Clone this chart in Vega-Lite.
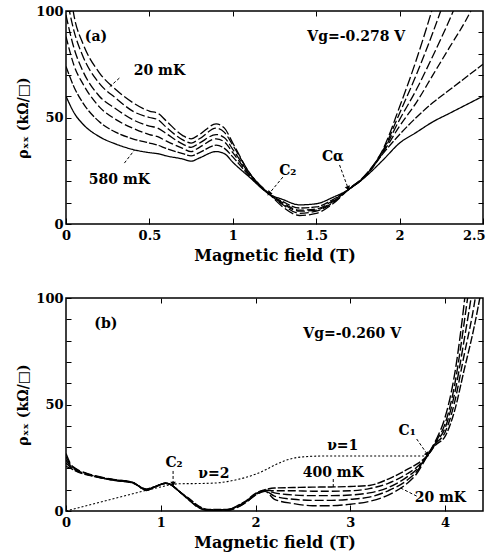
{
  "$schema": "https://vega.github.io/schema/vega-lite/v6.json",
  "background": "white",
  "padding": {"left": 16, "top": 4, "right": 0, "bottom": 5},
  "spacing": 27,
  "config": {
    "view": {"stroke": "black", "strokeWidth": 1.5},
    "axis": {
      "domain": false, "grid": false,
      "labelFont": "DejaVu Serif", "labelFontWeight": "bold", "labelFontSize": 13, "labelColor": "black",
      "titleFont": "DejaVu Serif", "titleFontWeight": "bold", "titleFontSize": 16, "titleColor": "black",
      "tickColor": "black", "tickWidth": 1, "labelFlush": false, "labelOverlap": false
    },
    "text": {"font": "DejaVu Serif", "fontWeight": "bold", "fontSize": 14, "color": "black"}
  },
  "datasets": {
    "a": [
      {"T":"20 mK","B":0,"rho":125},{"T":"20 mK","B":0.05,"rho":97},{"T":"20 mK","B":0.1,"rho":85},{"T":"20 mK","B":0.2,"rho":71},{"T":"20 mK","B":0.3,"rho":63},{"T":"20 mK","B":0.4,"rho":57},{"T":"20 mK","B":0.5,"rho":53},{"T":"20 mK","B":0.55,"rho":52},{"T":"20 mK","B":0.6,"rho":48.5},{"T":"20 mK","B":0.7,"rho":41.5},{"T":"20 mK","B":0.75,"rho":40},{"T":"20 mK","B":0.8,"rho":42},{"T":"20 mK","B":0.9,"rho":47},{"T":"20 mK","B":0.95,"rho":45},{"T":"20 mK","B":1.0,"rho":38},{"T":"20 mK","B":1.1,"rho":24},{"T":"20 mK","B":1.22,"rho":14},{"T":"20 mK","B":1.3,"rho":8},{"T":"20 mK","B":1.4,"rho":4},{"T":"20 mK","B":1.5,"rho":5},{"T":"20 mK","B":1.6,"rho":9.5},{"T":"20 mK","B":1.69,"rho":16},{"T":"20 mK","B":1.8,"rho":23.5},{"T":"20 mK","B":1.9,"rho":35},{"T":"20 mK","B":2.0,"rho":55},{"T":"20 mK","B":2.1,"rho":77},{"T":"20 mK","B":2.2,"rho":102},{"T":"20 mK","B":2.3,"rho":130},
      {"T":"100 mK","B":0,"rho":108},{"T":"100 mK","B":0.05,"rho":90},{"T":"100 mK","B":0.1,"rho":79},{"T":"100 mK","B":0.2,"rho":66},{"T":"100 mK","B":0.3,"rho":59},{"T":"100 mK","B":0.4,"rho":53},{"T":"100 mK","B":0.5,"rho":50},{"T":"100 mK","B":0.55,"rho":49},{"T":"100 mK","B":0.6,"rho":45.5},{"T":"100 mK","B":0.7,"rho":39.5},{"T":"100 mK","B":0.75,"rho":38},{"T":"100 mK","B":0.8,"rho":40},{"T":"100 mK","B":0.9,"rho":45},{"T":"100 mK","B":0.95,"rho":43},{"T":"100 mK","B":1.0,"rho":37},{"T":"100 mK","B":1.1,"rho":24},{"T":"100 mK","B":1.22,"rho":14},{"T":"100 mK","B":1.3,"rho":9},{"T":"100 mK","B":1.4,"rho":5},{"T":"100 mK","B":1.5,"rho":6},{"T":"100 mK","B":1.6,"rho":10},{"T":"100 mK","B":1.69,"rho":16},{"T":"100 mK","B":1.8,"rho":23.3},{"T":"100 mK","B":1.9,"rho":34.5},{"T":"100 mK","B":2.0,"rho":52},{"T":"100 mK","B":2.1,"rho":70},{"T":"100 mK","B":2.2,"rho":90},{"T":"100 mK","B":2.3,"rho":112},
      {"T":"200 mK","B":0,"rho":98},{"T":"200 mK","B":0.05,"rho":82},{"T":"200 mK","B":0.1,"rho":72},{"T":"200 mK","B":0.2,"rho":60},{"T":"200 mK","B":0.3,"rho":54},{"T":"200 mK","B":0.4,"rho":49},{"T":"200 mK","B":0.5,"rho":46},{"T":"200 mK","B":0.55,"rho":45},{"T":"200 mK","B":0.6,"rho":42.5},{"T":"200 mK","B":0.7,"rho":37.5},{"T":"200 mK","B":0.75,"rho":36},{"T":"200 mK","B":0.8,"rho":38},{"T":"200 mK","B":0.9,"rho":42},{"T":"200 mK","B":0.95,"rho":40.5},{"T":"200 mK","B":1.0,"rho":35},{"T":"200 mK","B":1.1,"rho":23.5},{"T":"200 mK","B":1.22,"rho":14},{"T":"200 mK","B":1.3,"rho":9.5},{"T":"200 mK","B":1.4,"rho":6},{"T":"200 mK","B":1.5,"rho":6.5},{"T":"200 mK","B":1.6,"rho":10.5},{"T":"200 mK","B":1.69,"rho":16},{"T":"200 mK","B":1.8,"rho":23.1},{"T":"200 mK","B":1.9,"rho":34},{"T":"200 mK","B":2.0,"rho":49},{"T":"200 mK","B":2.1,"rho":63},{"T":"200 mK","B":2.2,"rho":79},{"T":"200 mK","B":2.3,"rho":96},{"T":"200 mK","B":2.4,"rho":115},
      {"T":"300 mK","B":0,"rho":88},{"T":"300 mK","B":0.05,"rho":74},{"T":"300 mK","B":0.1,"rho":66},{"T":"300 mK","B":0.2,"rho":55},{"T":"300 mK","B":0.3,"rho":49},{"T":"300 mK","B":0.4,"rho":45},{"T":"300 mK","B":0.5,"rho":42},{"T":"300 mK","B":0.55,"rho":41},{"T":"300 mK","B":0.6,"rho":39},{"T":"300 mK","B":0.7,"rho":35.5},{"T":"300 mK","B":0.75,"rho":34},{"T":"300 mK","B":0.8,"rho":36},{"T":"300 mK","B":0.9,"rho":40},{"T":"300 mK","B":0.95,"rho":38.5},{"T":"300 mK","B":1.0,"rho":33.5},{"T":"300 mK","B":1.1,"rho":23},{"T":"300 mK","B":1.22,"rho":14},{"T":"300 mK","B":1.3,"rho":10},{"T":"300 mK","B":1.4,"rho":6.5},{"T":"300 mK","B":1.5,"rho":7},{"T":"300 mK","B":1.6,"rho":11},{"T":"300 mK","B":1.69,"rho":16},{"T":"300 mK","B":1.8,"rho":22.9},{"T":"300 mK","B":1.9,"rho":33.5},{"T":"300 mK","B":2.0,"rho":46},{"T":"300 mK","B":2.1,"rho":57},{"T":"300 mK","B":2.2,"rho":70},{"T":"300 mK","B":2.3,"rho":83},{"T":"300 mK","B":2.4,"rho":96},{"T":"300 mK","B":2.5,"rho":112},
      {"T":"400 mK","B":0,"rho":74},{"T":"400 mK","B":0.05,"rho":64},{"T":"400 mK","B":0.1,"rho":57},{"T":"400 mK","B":0.2,"rho":48},{"T":"400 mK","B":0.3,"rho":43},{"T":"400 mK","B":0.4,"rho":40},{"T":"400 mK","B":0.5,"rho":38},{"T":"400 mK","B":0.55,"rho":37},{"T":"400 mK","B":0.6,"rho":35.5},{"T":"400 mK","B":0.7,"rho":33},{"T":"400 mK","B":0.75,"rho":32},{"T":"400 mK","B":0.8,"rho":33.5},{"T":"400 mK","B":0.9,"rho":37},{"T":"400 mK","B":0.95,"rho":35.5},{"T":"400 mK","B":1.0,"rho":31.5},{"T":"400 mK","B":1.1,"rho":22.5},{"T":"400 mK","B":1.22,"rho":14},{"T":"400 mK","B":1.3,"rho":10.5},{"T":"400 mK","B":1.4,"rho":7.5},{"T":"400 mK","B":1.5,"rho":8},{"T":"400 mK","B":1.6,"rho":11.5},{"T":"400 mK","B":1.69,"rho":16},{"T":"400 mK","B":1.8,"rho":22.7},{"T":"400 mK","B":1.9,"rho":33},{"T":"400 mK","B":2.0,"rho":42},{"T":"400 mK","B":2.1,"rho":50},{"T":"400 mK","B":2.2,"rho":57},{"T":"400 mK","B":2.3,"rho":63},{"T":"400 mK","B":2.4,"rho":69},{"T":"400 mK","B":2.5,"rho":75},
      {"T":"580 mK","B":0,"rho":60},{"T":"580 mK","B":0.05,"rho":52},{"T":"580 mK","B":0.1,"rho":47},{"T":"580 mK","B":0.2,"rho":41},{"T":"580 mK","B":0.3,"rho":37.5},{"T":"580 mK","B":0.4,"rho":35},{"T":"580 mK","B":0.5,"rho":33.5},{"T":"580 mK","B":0.55,"rho":33},{"T":"580 mK","B":0.6,"rho":32},{"T":"580 mK","B":0.7,"rho":30.5},{"T":"580 mK","B":0.75,"rho":29.5},{"T":"580 mK","B":0.8,"rho":31},{"T":"580 mK","B":0.9,"rho":34},{"T":"580 mK","B":0.95,"rho":33},{"T":"580 mK","B":1.0,"rho":29},{"T":"580 mK","B":1.1,"rho":22},{"T":"580 mK","B":1.22,"rho":14},{"T":"580 mK","B":1.3,"rho":11.5},{"T":"580 mK","B":1.4,"rho":9},{"T":"580 mK","B":1.5,"rho":9.5},{"T":"580 mK","B":1.6,"rho":12.5},{"T":"580 mK","B":1.69,"rho":16},{"T":"580 mK","B":1.8,"rho":22.5},{"T":"580 mK","B":1.9,"rho":30},{"T":"580 mK","B":2.0,"rho":38},{"T":"580 mK","B":2.1,"rho":43},{"T":"580 mK","B":2.2,"rho":48},{"T":"580 mK","B":2.3,"rho":52},{"T":"580 mK","B":2.4,"rho":56},{"T":"580 mK","B":2.5,"rho":60}
    ],
    "b": [
      {"T":"20 mK","B":0,"rho":27},{"T":"20 mK","B":0.05,"rho":22},{"T":"20 mK","B":0.1,"rho":20},{"T":"20 mK","B":0.2,"rho":18},{"T":"20 mK","B":0.3,"rho":16.6},{"T":"20 mK","B":0.5,"rho":14.8},{"T":"20 mK","B":0.7,"rho":13.6},{"T":"20 mK","B":0.85,"rho":9.6},{"T":"20 mK","B":0.95,"rho":11.6},{"T":"20 mK","B":1.05,"rho":13},{"T":"20 mK","B":1.1,"rho":12.5},{"T":"20 mK","B":1.2,"rho":9},{"T":"20 mK","B":1.3,"rho":5},{"T":"20 mK","B":1.4,"rho":1.5},{"T":"20 mK","B":1.5,"rho":0.3},{"T":"20 mK","B":1.7,"rho":0.3},{"T":"20 mK","B":1.8,"rho":1.5},{"T":"20 mK","B":1.9,"rho":4},{"T":"20 mK","B":2.0,"rho":7.5},{"T":"20 mK","B":2.1,"rho":9.2},{"T":"20 mK","B":2.2,"rho":5.5},{"T":"20 mK","B":2.4,"rho":3.5},{"T":"20 mK","B":2.6,"rho":2.5},{"T":"20 mK","B":2.8,"rho":2.5},{"T":"20 mK","B":3.0,"rho":3.2},{"T":"20 mK","B":3.2,"rho":4.5},{"T":"20 mK","B":3.4,"rho":7.5},{"T":"20 mK","B":3.6,"rho":13},{"T":"20 mK","B":3.7,"rho":17.5},{"T":"20 mK","B":3.81,"rho":25.8},{"T":"20 mK","B":3.9,"rho":33},{"T":"20 mK","B":4.0,"rho":44},{"T":"20 mK","B":4.1,"rho":64},{"T":"20 mK","B":4.2,"rho":97},{"T":"20 mK","B":4.3,"rho":140},
      {"T":"100 mK","B":0,"rho":25.5},{"T":"100 mK","B":0.05,"rho":21.5},{"T":"100 mK","B":0.1,"rho":19.7},{"T":"100 mK","B":0.2,"rho":17.8},{"T":"100 mK","B":0.3,"rho":16.5},{"T":"100 mK","B":0.5,"rho":14.7},{"T":"100 mK","B":0.7,"rho":13.5},{"T":"100 mK","B":0.85,"rho":9.8},{"T":"100 mK","B":0.95,"rho":11.6},{"T":"100 mK","B":1.05,"rho":13},{"T":"100 mK","B":1.1,"rho":12.5},{"T":"100 mK","B":1.2,"rho":9},{"T":"100 mK","B":1.3,"rho":5.2},{"T":"100 mK","B":1.4,"rho":1.7},{"T":"100 mK","B":1.5,"rho":0.4},{"T":"100 mK","B":1.7,"rho":0.4},{"T":"100 mK","B":1.8,"rho":1.7},{"T":"100 mK","B":1.9,"rho":4.2},{"T":"100 mK","B":2.0,"rho":7.7},{"T":"100 mK","B":2.1,"rho":9.4},{"T":"100 mK","B":2.2,"rho":7},{"T":"100 mK","B":2.4,"rho":5.5},{"T":"100 mK","B":2.6,"rho":5},{"T":"100 mK","B":2.8,"rho":5},{"T":"100 mK","B":3.0,"rho":5.5},{"T":"100 mK","B":3.2,"rho":6.5},{"T":"100 mK","B":3.4,"rho":9.5},{"T":"100 mK","B":3.6,"rho":14.5},{"T":"100 mK","B":3.7,"rho":18.5},{"T":"100 mK","B":3.81,"rho":25.8},{"T":"100 mK","B":3.9,"rho":32.5},{"T":"100 mK","B":4.0,"rho":41},{"T":"100 mK","B":4.1,"rho":59},{"T":"100 mK","B":4.2,"rho":88},{"T":"100 mK","B":4.3,"rho":122},{"T":"100 mK","B":4.4,"rho":165},
      {"T":"200 mK","B":0,"rho":24},{"T":"200 mK","B":0.05,"rho":21},{"T":"200 mK","B":0.1,"rho":19.4},{"T":"200 mK","B":0.2,"rho":17.6},{"T":"200 mK","B":0.3,"rho":16.4},{"T":"200 mK","B":0.5,"rho":14.6},{"T":"200 mK","B":0.7,"rho":13.4},{"T":"200 mK","B":0.85,"rho":10},{"T":"200 mK","B":0.95,"rho":11.6},{"T":"200 mK","B":1.05,"rho":13},{"T":"200 mK","B":1.1,"rho":12.5},{"T":"200 mK","B":1.2,"rho":9},{"T":"200 mK","B":1.3,"rho":5.4},{"T":"200 mK","B":1.4,"rho":1.9},{"T":"200 mK","B":1.5,"rho":0.5},{"T":"200 mK","B":1.7,"rho":0.5},{"T":"200 mK","B":1.8,"rho":1.9},{"T":"200 mK","B":1.9,"rho":4.4},{"T":"200 mK","B":2.0,"rho":7.9},{"T":"200 mK","B":2.1,"rho":9.6},{"T":"200 mK","B":2.2,"rho":8.5},{"T":"200 mK","B":2.4,"rho":7.5},{"T":"200 mK","B":2.6,"rho":7.2},{"T":"200 mK","B":2.8,"rho":7.2},{"T":"200 mK","B":3.0,"rho":7.5},{"T":"200 mK","B":3.2,"rho":8.5},{"T":"200 mK","B":3.4,"rho":11},{"T":"200 mK","B":3.6,"rho":16},{"T":"200 mK","B":3.7,"rho":19.5},{"T":"200 mK","B":3.81,"rho":25.8},{"T":"200 mK","B":3.9,"rho":32},{"T":"200 mK","B":4.0,"rho":39},{"T":"200 mK","B":4.1,"rho":55},{"T":"200 mK","B":4.2,"rho":80},{"T":"200 mK","B":4.3,"rho":108},{"T":"200 mK","B":4.4,"rho":145},
      {"T":"300 mK","B":0,"rho":22.5},{"T":"300 mK","B":0.05,"rho":20.5},{"T":"300 mK","B":0.1,"rho":19.1},{"T":"300 mK","B":0.2,"rho":17.4},{"T":"300 mK","B":0.3,"rho":16.3},{"T":"300 mK","B":0.5,"rho":14.5},{"T":"300 mK","B":0.7,"rho":13.3},{"T":"300 mK","B":0.85,"rho":10.2},{"T":"300 mK","B":0.95,"rho":11.6},{"T":"300 mK","B":1.05,"rho":13},{"T":"300 mK","B":1.1,"rho":12.5},{"T":"300 mK","B":1.2,"rho":9},{"T":"300 mK","B":1.3,"rho":5.6},{"T":"300 mK","B":1.4,"rho":2.1},{"T":"300 mK","B":1.5,"rho":0.6},{"T":"300 mK","B":1.7,"rho":0.6},{"T":"300 mK","B":1.8,"rho":2.1},{"T":"300 mK","B":1.9,"rho":4.6},{"T":"300 mK","B":2.0,"rho":8.1},{"T":"300 mK","B":2.1,"rho":9.8},{"T":"300 mK","B":2.2,"rho":9.5},{"T":"300 mK","B":2.4,"rho":9.5},{"T":"300 mK","B":2.6,"rho":9.3},{"T":"300 mK","B":2.8,"rho":9.3},{"T":"300 mK","B":3.0,"rho":9.5},{"T":"300 mK","B":3.2,"rho":10.5},{"T":"300 mK","B":3.4,"rho":13},{"T":"300 mK","B":3.6,"rho":17.5},{"T":"300 mK","B":3.7,"rho":20.5},{"T":"300 mK","B":3.81,"rho":25.8},{"T":"300 mK","B":3.9,"rho":31.5},{"T":"300 mK","B":4.0,"rho":37},{"T":"300 mK","B":4.1,"rho":51},{"T":"300 mK","B":4.2,"rho":73},{"T":"300 mK","B":4.3,"rho":95},{"T":"300 mK","B":4.4,"rho":125},
      {"T":"400 mK","B":0,"rho":21},{"T":"400 mK","B":0.05,"rho":20},{"T":"400 mK","B":0.1,"rho":18.8},{"T":"400 mK","B":0.2,"rho":17.2},{"T":"400 mK","B":0.3,"rho":16.2},{"T":"400 mK","B":0.5,"rho":14.4},{"T":"400 mK","B":0.7,"rho":13.2},{"T":"400 mK","B":0.85,"rho":10.4},{"T":"400 mK","B":0.95,"rho":11.6},{"T":"400 mK","B":1.05,"rho":13},{"T":"400 mK","B":1.1,"rho":12.5},{"T":"400 mK","B":1.2,"rho":9},{"T":"400 mK","B":1.3,"rho":5.8},{"T":"400 mK","B":1.4,"rho":2.3},{"T":"400 mK","B":1.5,"rho":0.7},{"T":"400 mK","B":1.7,"rho":0.7},{"T":"400 mK","B":1.8,"rho":2.3},{"T":"400 mK","B":1.9,"rho":4.8},{"T":"400 mK","B":2.0,"rho":8.3},{"T":"400 mK","B":2.1,"rho":10},{"T":"400 mK","B":2.2,"rho":10.8},{"T":"400 mK","B":2.4,"rho":11},{"T":"400 mK","B":2.6,"rho":11.2},{"T":"400 mK","B":2.8,"rho":11.3},{"T":"400 mK","B":3.0,"rho":11.5},{"T":"400 mK","B":3.2,"rho":12},{"T":"400 mK","B":3.4,"rho":15},{"T":"400 mK","B":3.6,"rho":19.5},{"T":"400 mK","B":3.7,"rho":22},{"T":"400 mK","B":3.81,"rho":25.8},{"T":"400 mK","B":3.9,"rho":31},{"T":"400 mK","B":4.0,"rho":35},{"T":"400 mK","B":4.1,"rho":47},{"T":"400 mK","B":4.2,"rho":66},{"T":"400 mK","B":4.3,"rho":85},{"T":"400 mK","B":4.4,"rho":108}
    ],
    "hall": [
      {"B":0,"rho":0},{"B":0.2,"rho":2.3},{"B":0.4,"rho":4.6},{"B":0.6,"rho":6.9},{"B":0.8,"rho":9.2},{"B":1.0,"rho":11.3},{"B":1.1,"rho":12.3},{"B":1.2,"rho":12.8},{"B":1.4,"rho":12.9},{"B":1.6,"rho":13.2},{"B":1.7,"rho":13.8},{"B":1.8,"rho":14.7},{"B":1.9,"rho":15.8},{"B":2.0,"rho":17.3},{"B":2.1,"rho":19.2},{"B":2.2,"rho":21.5},{"B":2.3,"rho":23.5},{"B":2.4,"rho":24.8},{"B":2.5,"rho":25.4},{"B":2.7,"rho":25.8},{"B":3.0,"rho":25.8},{"B":3.5,"rho":25.8},{"B":3.82,"rho":25.8}
    ],
    "ta": [
      {"label":"(a)","B":0.18,"rho":88},
      {"label":"20 mK","B":0.56,"rho":72},
      {"label":"580 mK","B":0.32,"rho":20.7},
      {"label":"Vg=-0.278  V","B":1.74,"rho":88},
      {"label":"C₂","B":1.33,"rho":25},
      {"label":"Cα","B":1.6,"rho":31.5}
    ],
    "tb": [
      {"label":"(b)","B":0.42,"rho":88},
      {"label":"Vg=-0.260 V","B":3.02,"rho":83},
      {"label":"C₂","B":1.14,"rho":22.5},
      {"label":"ν=2","B":1.56,"rho":17.4},
      {"label":"ν=1","B":2.92,"rho":30.5},
      {"label":"400 mK","B":2.82,"rho":17.8},
      {"label":"20 mK","B":3.95,"rho":6.1},
      {"label":"C₁","B":3.6,"rho":37.6}
    ],
    "la": [
      {"name":"20","B":0.32,"rho":68.5,"B2":0.26,"rho2":64.3},
      {"name":"580","B":0.35,"rho":28.6,"B2":0.41,"rho2":34.7},
      {"name":"C2","B":1.3,"rho":22,"B2":1.22,"rho2":14.5},
      {"name":"Ca","B":1.64,"rho":27.7,"B2":1.69,"rho2":17}
    ],
    "lb": [
      {"name":"C2","B":1.13,"rho":18.8,"B2":1.13,"rho2":13},
      {"name":"400","B":2.82,"rho":15,"B2":2.82,"rho2":10.8},
      {"name":"20","B":3.7,"rho":7,"B2":3.53,"rho2":10.8},
      {"name":"C1","B":3.7,"rho":33.8,"B2":3.81,"rho2":26.8}
    ]
  },
  "vconcat": [
    {
      "width": 417, "height": 213,
      "resolve": {"axis": {"x": "independent", "y": "independent"}},
      "layer": [
        {
          "data": {"name": "a"},
          "mark": {"type": "line", "clip": true, "interpolate": "monotone", "strokeWidth": 1.3, "color": "black"},
          "encoding": {
            "x": {"field": "B", "type": "quantitative", "scale": {"domain": [0, 2.5], "nice": false, "zero": false},
                  "axis": {"orient": "bottom", "title": "Magnetic field (T)", "values": [0, 0.5, 1, 1.5, 2, 2.5], "format": "~g", "tickSize": -6, "labelPadding": 11, "titlePadding": 5,
                           "labelAlign": {"condition": {"test": "datum.value === 2.5", "value": "right"}, "value": "center"},
                           "labelOffset": {"condition": {"test": "datum.value === 2.5", "value": 2}, "value": 0}}},
            "y": {"field": "rho", "type": "quantitative", "scale": {"domain": [0, 100], "nice": false},
                  "axis": {"orient": "left", "title": "ρₓₓ (kΩ/□)", "titleFontSize": 14, "values": [0,10,20,30,40,50,60,70,80,90,100], "labelExpr": "datum.value % 50 === 0 ? datum.label : ''", "tickSize": -5, "labelPadding": 8, "titlePadding": 5}},
            "strokeDash": {"field": "T", "type": "nominal", "legend": null,
                  "scale": {"domain": ["20 mK","100 mK","200 mK","300 mK","400 mK","580 mK"], "range": [[10,3],[9,3],[9,3],[8,3],[8,2],[1,0]]}}
          }
        },
        {
          "data": {"name": "ta"},
          "mark": {"type": "text"},
          "encoding": {
            "x": {"field": "B", "type": "quantitative", "axis": {"orient": "top", "labels": false, "title": null, "values": [0.5, 1, 1.5, 2], "tickSize": -5}},
            "y": {"field": "rho", "type": "quantitative", "axis": {"orient": "right", "labels": false, "title": null, "values": [10,20,30,40,50,60,70,80,90], "tickSize": -5}},
            "text": {"field": "label"}
          }
        },
        {
          "data": {"name": "la"},
          "mark": {"type": "rule", "color": "black", "strokeWidth": 1, "strokeDash": [3, 2]},
          "encoding": {
            "x": {"field": "B", "type": "quantitative", "axis": null},
            "y": {"field": "rho", "type": "quantitative", "axis": null},
            "x2": {"field": "B2"},
            "y2": {"field": "rho2"}
          }
        },
        {
          "data": {"name": "la"},
          "transform": [{"filter": "datum.name === 'C2'"}],
          "mark": {"type": "point", "shape": "triangle", "angle": 221, "filled": true, "color": "black", "size": 30, "opacity": 1},
          "encoding": {
            "x": {"field": "B2", "type": "quantitative", "axis": null},
            "y": {"field": "rho2", "type": "quantitative", "axis": null}
          }
        },
        {
          "data": {"name": "la"},
          "transform": [{"filter": "datum.name === 'Ca'"}],
          "mark": {"type": "point", "shape": "triangle", "angle": 159, "filled": true, "color": "black", "size": 30, "opacity": 1},
          "encoding": {
            "x": {"field": "B2", "type": "quantitative", "axis": null},
            "y": {"field": "rho2", "type": "quantitative", "axis": null}
          }
        }
      ]
    },
    {
      "width": 417, "height": 213,
      "resolve": {"axis": {"x": "independent", "y": "independent"}},
      "layer": [
        {
          "data": {"name": "b"},
          "mark": {"type": "line", "clip": true, "interpolate": "monotone", "strokeWidth": 1.4, "color": "black"},
          "encoding": {
            "x": {"field": "B", "type": "quantitative", "scale": {"domain": [0, 4.4], "nice": false, "zero": false},
                  "axis": {"orient": "bottom", "title": "Magnetic field (T)", "values": [0, 1, 2, 3, 4], "format": "~g", "tickSize": -6, "labelPadding": 11, "titlePadding": 5}},
            "y": {"field": "rho", "type": "quantitative", "scale": {"domain": [0, 100], "nice": false},
                  "axis": {"orient": "left", "title": "ρₓₓ (kΩ/□)", "titleFontSize": 14, "values": [0,10,20,30,40,50,60,70,80,90,100], "labelExpr": "datum.value % 50 === 0 ? datum.label : ''", "tickSize": -5, "labelPadding": 8, "titlePadding": 5}},
            "strokeDash": {"field": "T", "type": "nominal", "legend": null,
                  "scale": {"domain": ["20 mK","100 mK","200 mK","300 mK","400 mK"], "range": [[10,3],[9,3],[9,3],[8,3],[12,3]]}}
          }
        },
        {
          "data": {"name": "hall"},
          "mark": {"type": "line", "clip": true, "interpolate": "monotone", "strokeWidth": 1.1, "color": "black", "strokeDash": [2, 2]},
          "encoding": {
            "x": {"field": "B", "type": "quantitative", "axis": null},
            "y": {"field": "rho", "type": "quantitative", "axis": null}
          }
        },
        {
          "data": {"name": "tb"},
          "mark": {"type": "text"},
          "encoding": {
            "x": {"field": "B", "type": "quantitative", "axis": {"orient": "top", "labels": false, "title": null, "values": [1, 2, 3, 4], "tickSize": -5}},
            "y": {"field": "rho", "type": "quantitative", "axis": {"orient": "right", "labels": false, "title": null, "values": [10,20,30,40,50,60,70,80,90], "tickSize": -5}},
            "text": {"field": "label"}
          }
        },
        {
          "data": {"name": "lb"},
          "mark": {"type": "rule", "color": "black", "strokeWidth": 1, "strokeDash": [3, 2]},
          "encoding": {
            "x": {"field": "B", "type": "quantitative", "axis": null},
            "y": {"field": "rho", "type": "quantitative", "axis": null},
            "x2": {"field": "B2"},
            "y2": {"field": "rho2"}
          }
        },
        {
          "data": {"name": "lb"},
          "transform": [{"filter": "datum.name === 'C2'"}],
          "mark": {"type": "point", "shape": "triangle", "angle": 180, "filled": true, "color": "black", "size": 30, "opacity": 1},
          "encoding": {
            "x": {"field": "B2", "type": "quantitative", "axis": null},
            "y": {"field": "rho2", "type": "quantitative", "axis": null}
          }
        },
        {
          "data": {"name": "lb"},
          "transform": [{"filter": "datum.name === 'C1'"}],
          "mark": {"type": "point", "shape": "triangle", "angle": 146, "filled": true, "color": "black", "size": 30, "opacity": 1},
          "encoding": {
            "x": {"field": "B2", "type": "quantitative", "axis": null},
            "y": {"field": "rho2", "type": "quantitative", "axis": null}
          }
        }
      ]
    }
  ]
}
